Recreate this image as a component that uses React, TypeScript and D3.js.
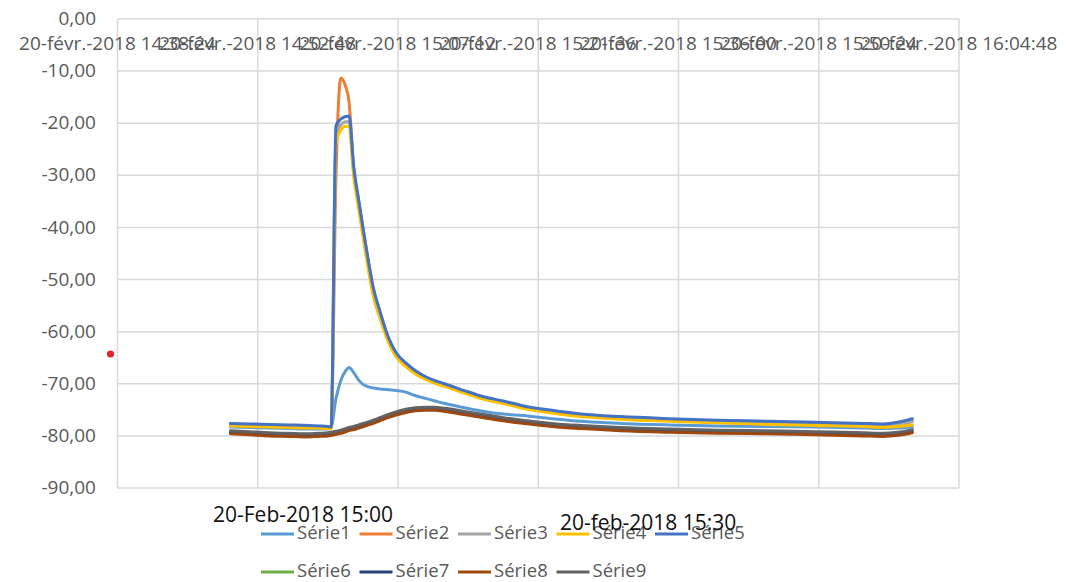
import React from "react";
import * as d3 from "d3";

// ---- data ----
const TIMES = [
  "14:50:00", "14:52:00", "14:54:00", "14:56:00", "14:58:00", "14:59:00", "15:00:00", "15:00:20",
  "15:00:50", "15:01:20", "15:01:50", "15:02:10", "15:02:40", "15:03:10", "15:03:40", "15:04:10",
  "15:04:40", "15:05:20", "15:06:00", "15:07:00", "15:08:00", "15:09:00", "15:10:00", "15:11:00",
  "15:12:00", "15:14:00", "15:16:00", "15:18:00", "15:20:00", "15:23:00", "15:26:00", "15:30:00",
  "15:35:00", "15:40:00", "15:45:00", "15:50:00", "15:55:00", "15:57:00", "15:58:30", "16:00:00",
];

const SERIE1 = [
  -78.3, -78.4, -78.5, -78.6, -78.7, -78.7, -78.7, -78.5, -72.8, -69.3, -67.5, -66.9, -67.9, -69.3, -70.2, -70.6,
  -70.8, -71.0, -71.1, -71.3, -71.6, -72.3, -72.8, -73.3, -73.8, -74.6, -75.3, -75.8, -76.1, -76.7, -77.2, -77.6,
  -77.9, -78.1, -78.2, -78.3, -78.5, -78.6, -78.5, -78.3,
];
const SERIE2 = [
  -77.9, -78.0, -78.1, -78.2, -78.3, -78.3, -78.4, -78.4, -30.0, -11.3, -13.0, -15.8, -29.0, -35.0, -41.0, -46.7,
  -51.8, -56.2, -60.2, -64.2, -66.2, -67.7, -68.8, -69.6, -70.2, -71.5, -72.7, -73.5, -74.4, -75.3, -76.0, -76.5,
  -76.9, -77.2, -77.4, -77.6, -77.8, -77.9, -77.6, -77.0,
];
const SERIE3 = [
  -77.9, -78.0, -78.1, -78.2, -78.3, -78.3, -78.4, -78.5, -22.5, -20.3, -19.7, -19.7, -29.5, -35.6, -41.6, -47.3,
  -52.4, -56.6, -60.5, -64.4, -66.3, -67.8, -68.8, -69.6, -70.2, -71.5, -72.7, -73.5, -74.4, -75.3, -76.0, -76.5,
  -76.9, -77.2, -77.5, -77.7, -77.9, -78.0, -77.8, -77.3,
];
const SERIE4 = [
  -78.1, -78.2, -78.3, -78.4, -78.5, -78.5, -78.6, -78.6, -24.0, -21.3, -20.6, -20.7, -30.5, -36.5, -42.5, -48.2,
  -53.2, -57.3, -61.0, -64.8, -66.7, -68.1, -69.1, -69.9, -70.5, -71.8, -73.0, -73.8, -74.7, -75.6, -76.3, -76.8,
  -77.2, -77.5, -77.8, -78.0, -78.2, -78.4, -78.2, -77.9,
];
const SERIE5 = [
  -77.6, -77.7, -77.8, -77.9, -78.0, -78.1, -78.2, -78.3, -20.5, -19.2, -18.7, -18.6, -28.5, -34.8, -40.8, -46.5,
  -51.6, -56.0, -60.0, -64.0, -66.0, -67.5, -68.6, -69.4, -70.0, -71.3, -72.5, -73.3, -74.2, -75.1, -75.8, -76.3,
  -76.7, -77.0, -77.2, -77.4, -77.6, -77.7, -77.4, -76.7,
];
const SERIE6 = [
  -79.3, -79.5, -79.7, -79.8, -79.9, -79.8, -79.7, -79.6, -79.4, -79.2, -78.9, -78.7, -78.5, -78.2, -77.9, -77.6,
  -77.3, -76.8, -76.3, -75.7, -75.2, -74.9, -74.8, -74.8, -75.0, -75.6, -76.2, -76.8, -77.3, -77.9, -78.3, -78.7,
  -79.0, -79.2, -79.3, -79.5, -79.7, -79.8, -79.6, -79.1,
];
const SERIE7 = [
  -79.4, -79.6, -79.8, -79.9, -80.0, -79.9, -79.8, -79.7, -79.5, -79.3, -79.0, -78.8, -78.6, -78.3, -78.0, -77.7,
  -77.4, -76.9, -76.4, -75.8, -75.3, -75.0, -74.9, -74.9, -75.1, -75.7, -76.3, -76.9, -77.4, -78.0, -78.4, -78.8,
  -79.1, -79.3, -79.4, -79.6, -79.8, -79.9, -79.7, -79.2,
];
const SERIE8 = [
  -79.6, -79.8, -80.0, -80.1, -80.2, -80.1, -80.0, -79.9, -79.7, -79.5, -79.2, -79.0, -78.8, -78.5, -78.2, -77.9,
  -77.6, -77.1, -76.6, -76.0, -75.5, -75.2, -75.1, -75.1, -75.3, -75.9, -76.5, -77.1, -77.6, -78.2, -78.6, -79.0,
  -79.3, -79.5, -79.6, -79.8, -80.0, -80.1, -79.9, -79.4,
];
const SERIE9 = [
  -79.0, -79.2, -79.4, -79.5, -79.6, -79.5, -79.4, -79.3, -79.1, -78.9, -78.6, -78.4, -78.2, -77.9, -77.6, -77.3,
  -77.0, -76.5, -76.0, -75.4, -74.9, -74.6, -74.5, -74.5, -74.7, -75.3, -75.9, -76.5, -77.0, -77.6, -78.0, -78.4,
  -78.7, -78.9, -79.0, -79.2, -79.4, -79.5, -79.3, -78.8,
];

const SERIES_NAMES = ["Série1", "Série2", "Série3", "Série4", "Série5", "Série6", "Série7", "Série8", "Série9"];
const SERIES_VALUES = [SERIE1, SERIE2, SERIE3, SERIE4, SERIE5, SERIE6, SERIE7, SERIE8, SERIE9];
const SERIES_COLORS = ["#5B9BD5", "#ED7D31", "#A5A5A5", "#FFC000", "#4472C4", "#70AD47", "#264478", "#9E480E", "#636363"];

const X_TICKS = ["14:38:24", "14:52:48", "15:07:12", "15:21:36", "15:36:00", "15:50:24", "16:04:48"];
const X_TICK_LABELS = [
  "20-févr.-2018 14:38:24", "20-févr.-2018 14:52:48", "20-févr.-2018 15:07:12", "20-févr.-2018 15:21:36",
  "20-févr.-2018 15:36:00", "20-févr.-2018 15:50:24", "20-févr.-2018 16:04:48",
];
const Y_TICKS = [0, -10, -20, -30, -40, -50, -60, -70, -80, -90];
const ANNOTATIONS = ["20-Feb-2018 15:00", "20-feb-2018 15:30"];

// ---- helpers ----
const toDate = (s: string) => {
  const [h, m, sec] = s.split(":").map(Number);
  return new Date(2018, 1, 20, h, m, sec);
};
const fmtY = (v: number) => v.toFixed(2).replace(".", ",");

const W = 1066;
const H = 582;
const FONT = "'Open Sans', 'Liberation Sans', sans-serif";

export default function App() {
  const x = d3
    .scaleTime()
    .domain([toDate(X_TICKS[0]), toDate(X_TICKS[X_TICKS.length - 1])])
    .range([117.5, 959]);
  const y = d3.scaleLinear().domain([-90, 0]).range([488, 19]);

  const line = d3
    .line<[Date, number]>()
    .x((d) => x(d[0]))
    .y((d) => y(d[1]))
    .curve(d3.curveMonotoneX);

  const dates = TIMES.map(toDate);

  const legendRows = [
    { items: [0, 1, 2, 3, 4], y: 534 },
    { items: [5, 6, 7, 8], y: 572 },
  ];

  return (
    <div style={{ position: "absolute", left: 0, top: 0 }}>
      <svg width={W} height={H} style={{ display: "block", background: "#fff" }}>
        {/* horizontal gridlines */}
        {Y_TICKS.map((t) => (
          <line key={"h" + t} x1={x.range()[0]} x2={x.range()[1]} y1={y(t)} y2={y(t)} stroke="#d9d9d9" strokeWidth={1.5} />
        ))}
        {/* vertical gridlines */}
        {X_TICKS.map((t) => (
          <line key={"v" + t} x1={x(toDate(t))} x2={x(toDate(t))} y1={y(0)} y2={y(-90)} stroke="#d9d9d9" strokeWidth={1.5} />
        ))}
        {/* y labels */}
        {Y_TICKS.map((t) => (
          <text key={"yl" + t} x={96} y={y(t) + 1} textAnchor="end" dominantBaseline="middle" fontFamily={FONT} fontSize={19} fill="#595959">
            {fmtY(t)}
          </text>
        ))}
        {/* x labels (top) */}
        {X_TICKS.map((t, i) => (
          <text key={"xl" + t} x={x(toDate(t))} y={50} textAnchor="middle" fontFamily={FONT} fontSize={19} fill="#595959">
            {X_TICK_LABELS[i]}
          </text>
        ))}
        {/* series */}
        {SERIES_VALUES.map((vals, i) => (
          <path
            key={SERIES_NAMES[i]}
            d={line(vals.map((v, j) => [dates[j], v] as [Date, number])) || ""}
            fill="none"
            stroke={SERIES_COLORS[i]}
            strokeWidth={3}
            strokeLinejoin="round"
            strokeLinecap="round"
          />
        ))}
        {/* red dot */}
        <circle cx={110.5} cy={354} r={3.6} fill="#E3212B" />
        {/* legend */}
        {legendRows.map((row) =>
          row.items.map((si, k) => {
            const lx = 261 + k * 98.5;
            return (
              <g key={"lg" + si}>
                <line x1={lx} x2={lx + 33} y1={row.y} y2={row.y} stroke={SERIES_COLORS[si]} strokeWidth={3} />
                <text x={lx + 36} y={row.y} dominantBaseline="middle" fontFamily={FONT} fontSize={18.5} fill="#595959">
                  {SERIES_NAMES[si]}
                </text>
              </g>
            );
          })
        )}
        {/* annotations */}
        <text x={213} y={522} fontFamily={FONT} fontSize={21} fill="#111">
          {ANNOTATIONS[0]}
        </text>
        <text x={560} y={530} fontFamily={FONT} fontSize={21} fill="#111">
          {ANNOTATIONS[1]}
        </text>
      </svg>
    </div>
  );
}
